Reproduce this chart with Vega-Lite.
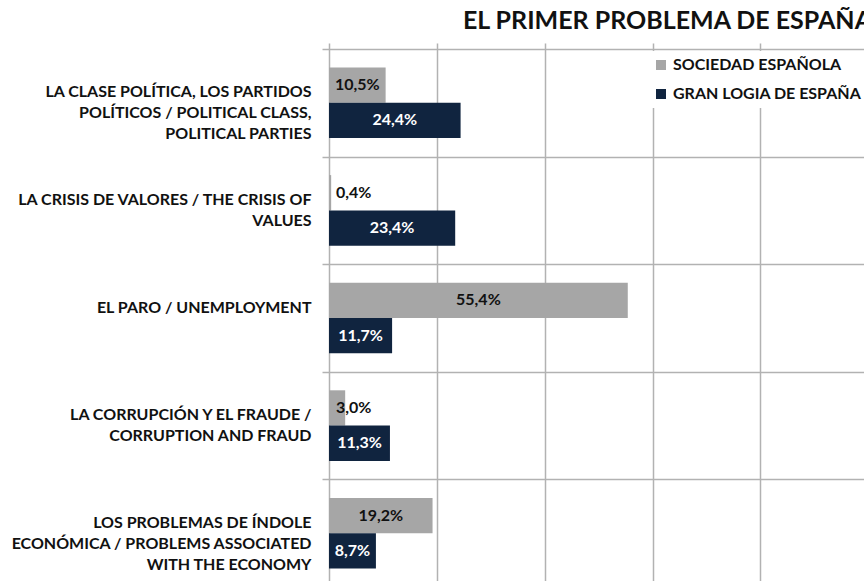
{
  "$schema": "https://vega.github.io/schema/vega-lite/v6.json",
  "autosize": {"type": "none"},
  "width": 535,
  "height": 532,
  "padding": {"left": 329, "top": 49, "right": 0, "bottom": 0},
  "background": "white",
  "title": {
    "text": "EL PRIMER PROBLEMA DE ESPAÑA",
    "anchor": "end",
    "frame": "group",
    "font": "Lato",
    "fontSize": 25,
    "fontWeight": "bold",
    "color": "#111111",
    "baseline": "alphabetic",
    "offset": 18,
    "dx": 8,
    "dy": 31
  },
  "data": {
    "values": [
      {"category": "LA CLASE POLÍTICA, LOS PARTIDOS|POLÍTICOS / POLITICAL CLASS,|POLITICAL PARTIES", "series": "SOCIEDAD ESPAÑOLA", "value": 10.5},
      {"category": "LA CLASE POLÍTICA, LOS PARTIDOS|POLÍTICOS / POLITICAL CLASS,|POLITICAL PARTIES", "series": "GRAN LOGIA DE ESPAÑA", "value": 24.4},
      {"category": "LA CRISIS DE VALORES / THE CRISIS OF|VALUES", "series": "SOCIEDAD ESPAÑOLA", "value": 0.4},
      {"category": "LA CRISIS DE VALORES / THE CRISIS OF|VALUES", "series": "GRAN LOGIA DE ESPAÑA", "value": 23.4},
      {"category": "EL PARO / UNEMPLOYMENT", "series": "SOCIEDAD ESPAÑOLA", "value": 55.4},
      {"category": "EL PARO / UNEMPLOYMENT", "series": "GRAN LOGIA DE ESPAÑA", "value": 11.7},
      {"category": "LA CORRUPCIÓN Y EL FRAUDE /|CORRUPTION AND FRAUD", "series": "SOCIEDAD ESPAÑOLA", "value": 3.0},
      {"category": "LA CORRUPCIÓN Y EL FRAUDE /|CORRUPTION AND FRAUD", "series": "GRAN LOGIA DE ESPAÑA", "value": 11.3},
      {"category": "LOS PROBLEMAS DE ÍNDOLE|ECONÓMICA / PROBLEMS ASSOCIATED|WITH THE ECONOMY", "series": "SOCIEDAD ESPAÑOLA", "value": 19.2},
      {"category": "LOS PROBLEMAS DE ÍNDOLE|ECONÓMICA / PROBLEMS ASSOCIATED|WITH THE ECONOMY", "series": "GRAN LOGIA DE ESPAÑA", "value": 8.7}
    ]
  },
  "transform": [
    {"calculate": "replace(format(datum.value, '.1f'), '.', ',') + '%'", "as": "label"},
    {"calculate": "datum.value < 5 ? 1.3 : datum.value / 2", "as": "labelPos"}
  ],
  "encoding": {
    "y": {
      "field": "category",
      "type": "nominal",
      "sort": null,
      "title": null,
      "scale": {"range": [0, 538], "paddingInner": 0, "paddingOuter": 0},
      "axis": {
        "domain": false,
        "grid": true,
        "gridColor": "#b2b2b2",
        "gridWidth": 1.5,
        "tickBand": "extent",
        "ticks": true,
        "tickSize": 7,
        "tickColor": "#b2b2b2",
        "tickWidth": 1.5,
        "labelExpr": "split(datum.label, '|')",
        "labelFont": "Lato",
        "labelFontSize": 16,
        "labelFontWeight": "bold",
        "labelColor": "#111111",
        "labelLineHeight": 21,
        "labelAlign": "right",
        "labelBaseline": "middle",
        "labelLimit": 500,
        "labelPadding": 11,
        "labelOffset": -11
      }
    },
    "yOffset": {
      "field": "series",
      "type": "nominal",
      "sort": "descending",
      "scale": {"paddingOuter": 0.524}
    }
  },
  "layer": [
    {
      "mark": {"type": "bar"},
      "encoding": {
        "x": {
          "field": "value",
          "type": "quantitative",
          "scale": {"domain": [0, 99.2], "nice": false},
          "axis": {
            "orient": "bottom",
            "values": [0, 20, 40, 60, 80, 100],
            "labels": false,
            "ticks": false,
            "domain": false,
            "grid": true,
            "gridColor": "#b2b2b2",
            "gridWidth": 1.5,
            "title": null
          }
        },
        "color": {
          "field": "series",
          "type": "nominal",
          "sort": "descending",
          "scale": {"range": ["#a6a6a6", "#10243f"]},
          "legend": {
            "orient": "none",
            "legendX": 318,
            "legendY": 2,
            "title": null,
            "fillColor": "white",
            "padding": 6,
            "symbolType": "square",
            "symbolSize": 100,
            "labelFont": "Lato",
            "labelFontSize": 16,
            "labelFontWeight": "bold",
            "labelColor": "#111111",
            "labelOffset": 4,
            "rowPadding": 13,
            "labelLimit": 400
          }
        }
      }
    },
    {
      "transform": [{"filter": "datum.value >= 5"}],
      "mark": {
        "type": "text",
        "font": "Lato",
        "fontSize": 16,
        "fontWeight": "bold",
        "baseline": "middle",
        "align": "center"
      },
      "encoding": {
        "x": {"field": "labelPos", "type": "quantitative"},
        "text": {"field": "label", "type": "nominal"},
        "color": {
          "condition": {"test": "datum.series == 'GRAN LOGIA DE ESPAÑA'", "value": "white"},
          "value": "#111111"
        }
      }
    },
    {
      "transform": [{"filter": "datum.value < 5"}],
      "mark": {
        "type": "text",
        "font": "Lato",
        "fontSize": 16,
        "fontWeight": "bold",
        "baseline": "middle",
        "align": "left",
        "color": "#111111"
      },
      "encoding": {
        "x": {"field": "labelPos", "type": "quantitative"},
        "text": {"field": "label", "type": "nominal"}
      }
    }
  ],
  "config": {
    "view": {"stroke": null},
    "font": "Lato"
  }
}
